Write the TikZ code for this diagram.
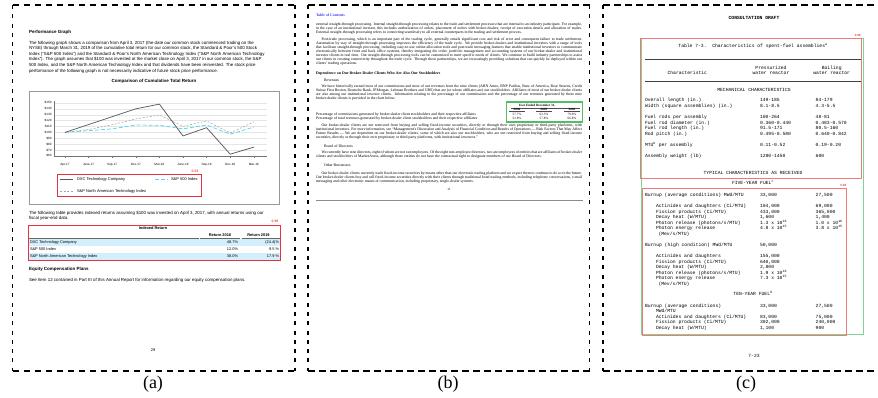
\documentclass[tikz,border=0pt]{standalone}
\usepackage{fontspec}
\setmainfont{Liberation Serif}
\setsansfont{Liberation Sans}
\setmonofont{Liberation Mono}
\newcommand{\setfs}[2]{\fontsize{#1}{#2}\selectfont}
\definecolor{boxred}{HTML}{E5323C}
\definecolor{scorered}{HTML}{F04646}
\definecolor{softred}{HTML}{F07A7A}
\definecolor{softgreen}{HTML}{82D392}
\definecolor{boxgreen}{HTML}{52BE60}
\definecolor{rowblue}{HTML}{D3EFFB}
\definecolor{lineblue}{HTML}{55D5F0}
\definecolor{tocblue}{HTML}{3C3CF5}
\begin{document}
\begin{tikzpicture}[x=1pt, y=-1pt,
  every node/.style={inner sep=0pt, outer sep=0pt},
  hframe/.style={line width=1.8pt, dash pattern=on 6.5pt off 4.5pt},
  vframe/.style={line width=1.8pt, dash pattern=on 4pt off 5.3pt},
  caption/.style={font=\setfs{18}{20}, anchor=center},
  sanstext/.style={font=\sffamily\setfs{4.4}{5}, anchor=base west},
  sansbold/.style={font=\sffamily\bfseries\setfs{4.5}{5}, anchor=base west},
  ticklab/.style={font=\sffamily\setfs{3.1}{3.5}},
  legendtext/.style={font=\sffamily\setfs{4}{4.5}, anchor=base west},
  cell/.style={font=\sffamily\setfs{3.9}{4.5}, anchor=base west},
  cellr/.style={cell, anchor=base east},
  cellhead/.style={font=\sffamily\bfseries\setfs{3.9}{4.5}, anchor=base},
  score/.style={font=\sffamily\bfseries\setfs{3.4}{4}, text=scorered, anchor=base},
  serif/.style={font=\setfs{3.85}{4.1}, anchor=base west},
  para/.style={serif, text width=266pt, align=justify},
  serifsmall/.style={font=\setfs{3.3}{3.6}, anchor=base},
  mono/.style={font=\ttfamily\setfs{4.7}{5.6}, anchor=base west},
  monoc/.style={mono, anchor=base},
  chartframe/.style={draw=black!40, line width=0.7pt},
  gridline/.style={draw=black!10, line width=0.35pt},
  axisline/.style={draw=black!55, line width=0.5pt},
  dxc/.style={draw=black!65, line width=0.75pt, line join=round},
  spx/.style={draw=lineblue, line width=0.75pt, dash pattern=on 4pt off 2pt},
  tech/.style={draw=black!35, line width=0.55pt, dash pattern=on 2pt off 1.6pt},
  detbox/.style={draw=boxred, line width=0.9pt},
  pageno/.style={font=\sffamily\setfs{4}{4.5}, anchor=base}
]
\useasboundingbox (0,0) rectangle (878,398);

% ---------------- page frames ----------------
\draw[hframe] (12.5,5) -- (295,5);
\draw[hframe] (12.5,371) -- (295,371);
\draw[vframe] (12.5,5) -- (12.5,371);
\draw[vframe] (295,5) -- (295,371);
\draw[hframe] (308,5) -- (589.5,5);
\draw[hframe] (308,371) -- (589.5,371);
\draw[vframe] (308,5) -- (308,371);
\draw[vframe] (589.5,5) -- (589.5,371);
\draw[hframe] (603,5) -- (878,5);
\draw[hframe] (603,371) -- (878,371);
\draw[vframe] (603,5) -- (603,371);

\node[caption] (cap-a) at (153,383.8) {(a)};
\node[caption] (cap-b) at (448,384.3) {(b)};
\node[caption] (cap-c) at (746,384.3) {(c)};

% ---------------- page (a): annual report ----------------
\node[sansbold] (a-head) at (29,33.5) {Performance Graph};
\node[sanstext] (a-p1) at (29,44.1) {The following graph shows a comparison from April 3, 2017 (the date our common stock commenced trading on the};
\node[sanstext] (a-p2) at (29,49.7) {NYSE) through March 31, 2019 of the cumulative total return for our common stock, the Standard \& Poor's 500 Stock};
\node[sanstext] (a-p3) at (29,55.4) {Index (“S\&P 500 Index”) and the Standard \& Poor's North American Technology Index (“S\&P North American Technology};
\node[sanstext] (a-p4) at (29,60.7) {Index”). The graph assumes that \$100 was invested at the market close on April 3, 2017 in our common stock, the S\&P};
\node[sanstext] (a-p5) at (29,66.4) {500 Index, and the S\&P North American Technology Index and that dividends have been reinvested. The stock price};
\node[sanstext] (a-p6) at (29,72.1) {performance of the following graph is not necessarily indicative of future stock price performance.};

\node[sansbold, anchor=base] (a-ctitle) at (154,82.5) {Comparison of Cumulative Total Return};
\draw[chartframe] (29,91) rectangle (279,204);

\foreach \v in {60,70,...,150}{
  \pgfmathsetmacro{\yy}{132.4-(\v-100)*0.589}
  \draw[gridline] (54,\yy) -- (267,\yy);
  \node[ticklab, anchor=east] (a-ylab-\v) at (51.5,\yy) {\$\v};
}
\draw[axisline] (54,101) -- (54,156) -- (267,156);
\foreach \lab [count=\i from 0] in {Apr-17,June-17,Sep-17,Dec-17,Mar-18,June-18,Sep-18,Dec-18,Mar-19}{
  \pgfmathsetmacro{\xx}{65+23.6*\i}
  \draw[axisline] (\xx,156) -- (\xx,158);
  \node[ticklab, anchor=base] (a-xlab-\i) at (\xx,165.2) {\lab};
}
\draw[tech] (65,132.4) -- (88.6,129.46) -- (112.2,124.74) -- (135.8,118.97) -- (159.4,114.97)
  -- (183,126.27) -- (206.6,120.97) -- (230.2,132.99) -- (253.8,121.97);
\draw[spx] (65,132.4) -- (88.6,130.63) -- (112.2,128.87) -- (135.8,124.98) -- (159.4,125.33)
  -- (183,128.87) -- (206.6,124.98) -- (230.2,134.17) -- (253.8,127.1);
\draw[dxc] (65,132.4) -- (88.6,124.57) -- (112.2,116.67) -- (135.8,108.84) -- (159.4,104.13)
  -- (183,135.93) -- (206.6,127.69) -- (230.2,154.19) -- (253.8,147.13);

% legend and its detection box
\draw[dxc] (60,179) -- (73,179);
\node[legendtext] (a-leg1) at (77,180.4) {DXC Technology Company};
\draw[spx] (155,179) -- (168,179);
\node[legendtext] (a-leg2) at (171,180.4) {S\&P 500 Index};
\draw[tech] (60,191) -- (73,191);
\node[legendtext] (a-leg3) at (77,192.4) {S\&P North American Technology Index};
\draw[detbox] (57,174) rectangle (201,196);
\node[score] (a-score1) at (195,172.2) {0.53};

\node[sanstext] (a-t1) at (29,214.1) {The following table provides indexed returns assuming \$100 was invested on April 3, 2017, with annual returns using our};
\node[sanstext] (a-t2) at (29,219.7) {fiscal year-end data.};

% indexed return table
\fill[rowblue] (29,239.4) rectangle (279.5,246);
\fill[rowblue] (29,253) rectangle (279.5,259.8);
\node[cellhead] (a-th) at (153,229.6) {Indexed Return};
\node[cellhead] (a-th1) at (220,236.3) {Return 2018};
\node[cellhead] (a-th2) at (258.5,236.3) {Return 2019};
\draw[draw=black!60, line width=0.6pt] (29,238.6) -- (198.5,238.6) (200,238.6) -- (240,238.6) (241.5,238.6) -- (279.5,238.6);
\node[cell] (a-r1) at (30,243.6) {DXC Technology Company};
\node[cellr] (a-r1a) at (238,243.6) {48.7\%};
\node[cellr] (a-r1b) at (279,243.6) {(24.4)\%};
\node[cell] (a-r2) at (30,250.3) {S\&P 500 Index};
\node[cellr] (a-r2a) at (238,250.3) {12.0\%};
\node[cellr] (a-r2b) at (279,250.3) {9.5 \%};
\node[cell] (a-r3) at (30,257.3) {S\&P North American Technology Index};
\node[cellr] (a-r3a) at (238,257.3) {38.0\%};
\node[cellr] (a-r3b) at (279,257.3) {17.9 \%};
\draw[detbox] (28,225) rectangle (280.5,260.7);
\node[score] (a-score2) at (275,222.8) {0.99};

\node[sansbold] (a-eq) at (29,270.1) {Equity Compensation Plans};
\node[sanstext] (a-eqt) at (29,281.4) {See Item 12 contained in Part III of this Annual Report for information regarding our equity compensation plans.};
\node[pageno] (a-page) at (153,351.4) {29};

% ---------------- page (b): 10-K text page ----------------
\node[serif, font=\bfseries\setfs{3.85}{4.1}, text=tocblue] (b-toc) at (316,16.2) {Table of Contents};
\node[para] (b-p1) at (316,25.5) {external straight-through processing. Internal straight-through processing relates to the trade and settlement processes that are internal to an industry participant. For example, in the case of an institutional investor, this includes authorization of orders, placement of orders with broker-dealers, receipt of execution details and allocation of trades. External straight-through processing refers to connecting seamlessly to all external counterparts in the trading and settlement process.};
\node[para] (b-p2) at (316,40.2) {\hspace*{5.5pt}Post-trade processing, which is an important part of the trading cycle, generally entails significant cost and risk of error and consequent failure to trade settlement. Automation by way of straight-through processing improves the efficiency of the trade cycle. We provide broker-dealers and institutional investors with a range of tools that facilitate straight-through processing, including easy-to-use online allocation tools and post-trade messaging features that enable institutional investors to communicate electronically between front and back office systems, thereby integrating the order, portfolio management and accounting systems of our broker-dealer and institutional investor clients in real time. Our straight-through processing tools can be customized to meet specific needs of clients. We continue to build industry partnerships to assist our clients in creating connectivity throughout the trade cycle. Through these partnerships, we are increasingly providing solutions that can quickly be deployed within our clients' trading operations.};
\node[serif, font=\bfseries\setfs{3.85}{4.1}] (b-h1) at (316,74.5) {Dependence on Our Broker-Dealer Clients Who Are Also Our Stockholders};
\node[serif] (b-h2) at (324,81.5) {Revenues};
\node[para] (b-p3) at (316,87.5) {\hspace*{5.5pt}We have historically earned most of our commissions and most of our revenues from the nine clients (ABN Amro, BNP Paribas, Banc of America, Bear Stearns, Credit Suisse First Boston, Deutsche Bank, JPMorgan, Lehman Brothers and UBS) that are (or whose affiliates are) our stockholders. Affiliates of most of our broker-dealer clients are also among our institutional investor clients. Information relating to the percentage of our commissions and the percentage of our revenues generated by these nine broker-dealer clients is provided in the chart below:};

% commissions table
\node[serifsmall, font=\bfseries\setfs{3.3}{3.6}] (b-tyear) at (537,106.8) {Year Ended December 31,};
\draw[black!70, line width=0.3pt] (511,107.9) -- (580,107.9);
\node[serifsmall, font=\bfseries\setfs{3.3}{3.6}] (b-y1) at (517,110.8) {2004};
\node[serifsmall, font=\bfseries\setfs{3.3}{3.6}] (b-y2) at (544,110.8) {2003};
\node[serifsmall, font=\bfseries\setfs{3.3}{3.6}] (b-y3) at (572,110.8) {2002};
\draw[black!70, line width=0.3pt] (509,111.6) -- (525,111.6) (536,111.6) -- (552,111.6) (564,111.6) -- (580,111.6);
\node[serif] (b-row1) at (316,115.1) {Percentage of commissions generated by broker-dealer client stockholders and their respective affiliates};
\node[serifsmall] (b-r1a) at (517,115.1) {57.7\%};
\node[serifsmall] (b-r1b) at (544,115.1) {62.3\%};
\node[serifsmall] (b-r1c) at (572,115.1) {79.0\%};
\node[serif] (b-row2) at (316,119.1) {Percentage of total revenues generated by broker-dealer client stockholders and their respective affiliates};
\node[serifsmall] (b-r2a) at (517,119.1) {52.8\%};
\node[serifsmall] (b-r2b) at (544,119.1) {57.8\%};
\node[serifsmall] (b-r2c) at (572,119.1) {66.8\%};
\draw[boxgreen, line width=1.2pt] (506.7,102) rectangle (582.3,122);

\node[para] (b-p4) at (316,126.5) {\hspace*{5.5pt}Our broker-dealer clients are not restricted from buying and selling fixed-income securities, directly or through their own proprietary or third-party platforms, with institutional investors. For more information, see “Management's Discussion and Analysis of Financial Condition and Results of Operations — Risk Factors That May Affect Future Results — We are dependent on our broker-dealer clients, some of which are also our stockholders, who are not restricted from buying and selling fixed-income securities, directly or through their own proprietary or third-party platforms, with institutional investors.”};
\node[serif] (b-h3) at (324,147.2) {Board of Directors};
\node[para] (b-p5) at (316,153.9) {\hspace*{5.5pt}We currently have nine directors, eight of whom are not our employees. Of the eight non-employee directors, two are employees of entities that are affiliates of broker-dealer clients and stockholders of MarketAxess, although those entities do not have the contractual right to designate members of our Board of Directors.};
\node[serif] (b-h4) at (324,166.9) {Other Businesses};
\node[para] (b-p6) at (316,174.2) {\hspace*{5.5pt}Our broker-dealer clients currently trade fixed-income securities by means other than our electronic trading platform and we expect them to continue to do so in the future. Our broker-dealer clients buy and sell fixed-income securities directly with their clients through traditional bond trading methods, including telephone conversations, e-mail messaging and other electronic means of communication, including proprietary, single-dealer systems.};
\node[serifsmall] (b-page) at (449,190.9) {11};
\draw[black!45, line width=0.7pt] (316,200.7) -- (583,200.7);

% ---------------- page (c): typewritten report ----------------
\node[monoc, font=\ttfamily\bfseries\setfs{4.7}{5.6}] (c-draft) at (754,19.5) {CONSULTATION DRAFT};
\node[monoc] (c-title) at (753,47.2) {Table 7-3.~~Characteristics of spent-fuel assemblies\textsuperscript{a}};
\draw[black!75, line width=0.5pt] (645,59.3) -- (861,59.3);
\node[monoc] (c-h1a) at (771,69.2) {Pressurized};
\node[monoc] (c-h1b) at (771,74.6) {water reactor};
\node[monoc] (c-h2a) at (831.7,69.2) {Boiling};
\node[monoc] (c-h2b) at (831.7,74.9) {water reactor};
\node[monoc] (c-h0) at (687.3,74.2) {Characteristic};
\draw[black!75, line width=0.5pt] (645,81.3) -- (861,81.3);
\node[monoc] (c-mech) at (754,91.2) {MECHANICAL CHARACTERISTICS};

\node[mono] (c-r1) at (645,101.8) {Overall length (in.)};
\node[mono] (c-r1a) at (760,101.8) {149-185};
\node[mono] (c-r1b) at (815.7,101.8) {84-179};
\node[mono] (c-r2) at (645,107.5) {Width (square assemblies) (in.)};
\node[mono] (c-r2a) at (760,107.5) {8.1-8.5};
\node[mono] (c-r2b) at (815.7,107.5) {4.3-5.5};
\node[mono] (c-r3) at (645,118.5) {Fuel rods per assembly};
\node[mono] (c-r3a) at (760,118.5) {100-264};
\node[mono] (c-r3b) at (815.7,118.5) {48-81};
\node[mono] (c-r4) at (645,124.2) {Fuel rod diameter (in.)};
\node[mono] (c-r4a) at (760,124.2) {0.360-0.440};
\node[mono] (c-r4b) at (815.7,124.2) {0.483-0.570};
\node[mono] (c-r5) at (645,129.8) {Fuel rod length (in.)};
\node[mono] (c-r5a) at (760,129.8) {91.5-171};
\node[mono] (c-r5b) at (815.7,129.8) {80.5-160};
\node[mono] (c-r6) at (645,135.5) {Rod pitch (in.)};
\node[mono] (c-r6a) at (760,135.5) {0.495-0.580};
\node[mono] (c-r6b) at (815.7,135.5) {0.640-0.842};
\node[mono] (c-r7) at (645,146.8) {MTU\textsuperscript{b} per assembly};
\node[mono] (c-r7a) at (760,146.8) {0.11-0.52};
\node[mono] (c-r7b) at (815.7,146.8) {0.19-0.20};
\node[mono] (c-r8) at (645,157.5) {Assembly weight (lb)};
\node[mono] (c-r8a) at (760,157.5) {1280-1450};
\node[mono] (c-r8b) at (815.7,157.5) {600};
\node[monoc] (c-typ) at (753,174.5) {TYPICAL CHARACTERISTICS AS RECEIVED};
\node[monoc] (c-five) at (753,184.8) {FIVE-YEAR FUEL\textsuperscript{c}};

\node[mono] (c-r9) at (645,196.8) {Burnup (average conditions) MWd/MTU};
\node[mono] (c-r9a) at (760,196.8) {33,000};
\node[mono] (c-r9b) at (815.7,196.8) {27,500};
\node[mono] (c-r10) at (656,207.5) {Actinides and daughters (Ci/MTU)};
\node[mono] (c-r10a) at (760,207.5) {104,000};
\node[mono] (c-r10b) at (815.7,207.5) {69,000};
\node[mono] (c-r11) at (656,213.2) {Fission products (Ci/MTU)};
\node[mono] (c-r11a) at (760,213.2) {433,000};
\node[mono] (c-r11b) at (815.7,213.2) {365,000};
\node[mono] (c-r12) at (656,218.5) {Decay heat (W/MTU)};
\node[mono] (c-r12a) at (760,218.5) {1,600};
\node[mono] (c-r12b) at (815.7,218.5) {1,400};
\node[mono] (c-r13) at (656,224.2) {Photon release (photons/s/MTU)};
\node[mono] (c-r13a) at (760,224.2) {1.3 x 10\textsuperscript{16}};
\node[mono] (c-r13b) at (815.7,224.2) {1.0 x 10\textsuperscript{16}};
\node[mono] (c-r14) at (656,229.5) {Photon energy release};
\node[mono] (c-r14a) at (760,229.5) {4.8 x 10\textsuperscript{15}};
\node[mono] (c-r14b) at (815.7,229.5) {3.8 x 10\textsuperscript{15}};
\node[mono] (c-r15) at (658.5,235.2) {(Mev/s/MTU)};
\node[mono] (c-r16) at (645,246.8) {Burnup (high condition) MWd/MTU};
\node[mono] (c-r16a) at (760,246.8) {50,000};
\node[mono] (c-r17) at (656,257.5) {Actinides and daughters};
\node[mono] (c-r17a) at (760,257.5) {155,000};
\node[mono] (c-r18) at (656,263.2) {Fission products (Ci/MTU)};
\node[mono] (c-r18a) at (760,263.2) {640,000};
\node[mono] (c-r19) at (656,268.5) {Decay heat (W/MTU)};
\node[mono] (c-r19a) at (760,268.5) {2,800};
\node[mono] (c-r20) at (656,274.2) {Photon release (photons/s/MTU)};
\node[mono] (c-r20a) at (760,274.2) {1.9 x 10\textsuperscript{16}};
\node[mono] (c-r21) at (656,279.8) {Photon energy release};
\node[mono] (c-r21a) at (760,279.8) {7.3 x 10\textsuperscript{15}};
\node[mono] (c-r22) at (658.5,285.2) {(Mev/s/MTU)};
\node[monoc] (c-ten) at (753,295.2) {TEN-YEAR FUEL\textsuperscript{d}};
\node[mono] (c-r23) at (645,307.5) {Burnup (average conditions)};
\node[mono] (c-r23a) at (760,307.5) {33,000};
\node[mono] (c-r23b) at (815.7,307.5) {27,500};
\node[mono] (c-r24) at (656,312.8) {MWd/MTU};
\node[mono] (c-r25) at (656,318.5) {Actinides and daughters (Ci/MTU)};
\node[mono] (c-r25a) at (760,318.5) {83,000};
\node[mono] (c-r25b) at (815.7,318.5) {75,000};
\node[mono] (c-r26) at (656,323.8) {Fission products (Ci/MTU)};
\node[mono] (c-r26a) at (760,323.8) {302,000};
\node[mono] (c-r26b) at (815.7,323.8) {240,000};
\node[mono] (c-r27) at (656,329.2) {Decay heat (W/MTU)};
\node[mono] (c-r27a) at (760,329.2) {1,100};
\node[mono] (c-r27b) at (815.7,329.2) {900};
\node[monoc] (c-page) at (754,357.5) {7-23};

% detection boxes on page (c)
\draw[softgreen, line width=0.8pt] (641,38.7) rectangle (863.3,334.3);
\draw[softred, line width=0.8pt] (640,38.7) rectangle (861.7,178);
\draw[softred, line width=0.8pt] (642.3,188) rectangle (846.7,335);
\node[score, font=\sffamily\bfseries\setfs{3}{3.5}] (c-score1) at (857.7,37) {0.99};
\node[score, font=\sffamily\bfseries\setfs{3}{3.5}] (c-score2) at (843.3,186.3) {0.99};
\end{tikzpicture}
\end{document}
